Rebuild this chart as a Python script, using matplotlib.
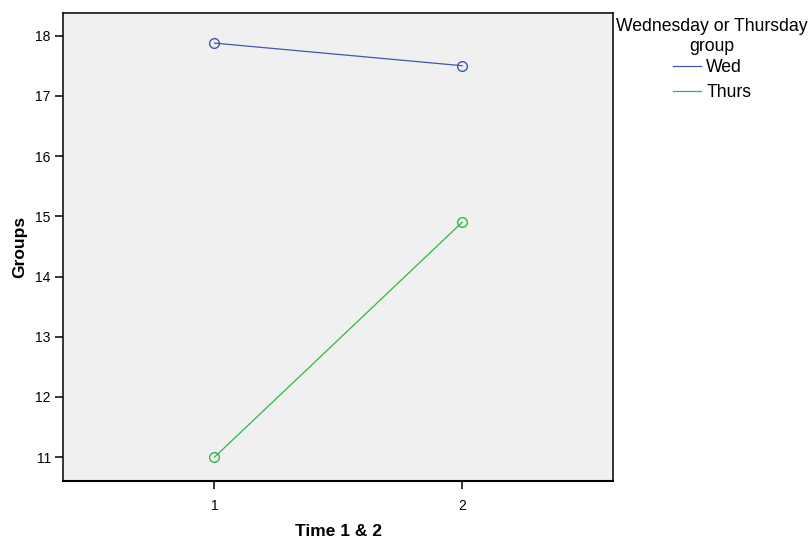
import matplotlib.pyplot as plt

# Estimated marginal means
times = [1, 2]
wed = [17.875, 17.5]
thurs = [11.0, 14.9]
series_names = ["Wed", "Thurs"]
series_colors = ["#3E58AC", "#2EB848"]
y_ticks = [11, 12, 13, 14, 15, 16, 17, 18]

plt.rcParams['font.family'] = ['Liberation Sans', 'DejaVu Sans']

fig = plt.figure(figsize=(8.12, 5.40), dpi=100)
ax = fig.add_axes([63.3 / 812, 59.3 / 540, 550 / 812, 468 / 540])
ax.set_facecolor("#F0F0F0")

for vals, name, col in zip([wed, thurs], series_names, series_colors):
    ax.plot(times, vals, color=col, linewidth=0.9, label=name)
    ax.plot(times, vals, linestyle='none', marker='o', markersize=7,
            markerfacecolor='none', markeredgecolor=col, markeredgewidth=1)

ax.set_xlim(0.39, 2.61)
ax.set_ylim(10.61, 18.38)
ax.set_xticks(times)
ax.set_yticks(y_ticks)
ax.tick_params(axis='both', direction='out', length=6, width=1.1,
               labelsize=10, colors='black', pad=3)
ax.tick_params(axis='x', pad=7)
for sp in ax.spines.values():
    sp.set_linewidth(1.1)
    sp.set_color('black')
ax.spines['bottom'].set_linewidth(1.5)

ax.set_xlabel("Time 1 & 2", fontsize=12.5, fontweight='bold', labelpad=8)
ax.set_ylabel("Groups", fontsize=12.5, fontweight='bold', labelpad=6)

leg = ax.legend(title="Wednesday or Thursday\ngroup", loc='upper center',
                bbox_to_anchor=(712 / 812, 1 - 18 / 540),
                bbox_transform=fig.transFigure, frameon=False,
                fontsize=12.7, title_fontsize=12.7, handlelength=1.6,
                handletextpad=0.3, labelspacing=0.45, borderpad=0,
                borderaxespad=0)
leg.get_title().set_multialignment('center')
leg._legend_box.sep = 3

fig.savefig("out.png", dpi=100)
